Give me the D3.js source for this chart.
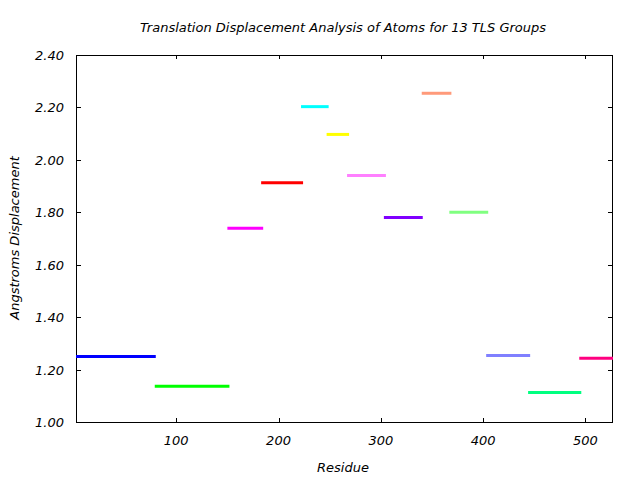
<!DOCTYPE html>
<html>
<head>
<meta charset="utf-8">
<script src="https://cdn.jsdelivr.net/npm/d3@7"></script>
<style>
html, body { margin: 0; padding: 0; background: #fff; }
svg text { font-family: "DejaVu Sans", sans-serif; font-style: italic; fill: #000; }
</style>
</head>
<body>
<svg id="chart" width="640" height="480"></svg>
<script>
// TLS group segments: residue ranges and mean displacement
const groupStart = [2, 79, 150, 183, 222, 247, 267, 303, 340, 367, 403, 444, 494];
const groupEnd   = [80, 152, 185, 224, 249, 269, 305, 341, 369, 405, 446, 496, 527];
const groupValue = [1.250, 1.136, 1.739, 1.913, 2.203, 2.097, 1.940, 1.780, 2.254, 1.800, 1.254, 1.113, 1.243];
const groupColor = ["#0000ff", "#00ff00", "#ff00ff", "#ff0000", "#00ffff", "#ffff00", "#ff80ff",
                    "#8000ff", "#ff9a7a", "#80ff80", "#8080ff", "#00ff80", "#ff0080"];
const xTicks = [100, 200, 300, 400, 500];
const yTicks = [1.00, 1.20, 1.40, 1.60, 1.80, 2.00, 2.20, 2.40];
const titleText = "Translation Displacement Analysis of Atoms for 13 TLS Groups";
const xLabel = "Residue";
const yLabel = "Angstroms Displacement";

const svg = d3.select("#chart");
const L = 76, R = 613, T = 55, B = 422;
const x = d3.scaleLinear().domain([2, 527]).range([L, R]);
const y = d3.scaleLinear().domain([1.0, 2.4]).range([B, T]);
const FS = 13;

// frame
svg.append("rect").attr("x", L + 0.5).attr("y", T + 0.5).attr("width", R - L - 1).attr("height", B - T)
  .attr("fill", "none").attr("stroke", "#000").attr("stroke-width", 1);

// y ticks (left + mirrored right)
const gy = svg.append("g");
yTicks.forEach(v => {
  const yy = Math.round(y(v)) + 0.5;
  gy.append("line").attr("x1", L).attr("x2", L + 5).attr("y1", yy).attr("y2", yy).attr("stroke", "#000");
  gy.append("line").attr("x1", R - 5).attr("x2", R).attr("y1", yy).attr("y2", yy).attr("stroke", "#000");
  gy.append("text").attr("x", 64).attr("y", y(v) + 5).attr("text-anchor", "end")
    .attr("font-size", FS).text(d3.format(".2f")(v));
});

// x ticks (bottom + mirrored top)
const gx = svg.append("g");
xTicks.forEach(v => {
  const xx = Math.round(x(v)) + 0.5;
  gx.append("line").attr("x1", xx).attr("x2", xx).attr("y1", B).attr("y2", B - 4).attr("stroke", "#000");
  gx.append("line").attr("x1", xx).attr("x2", xx).attr("y1", T).attr("y2", T + 4).attr("stroke", "#000");
  gx.append("text").attr("x", x(v)).attr("y", 445).attr("text-anchor", "middle")
    .attr("font-size", FS).text(v);
});

// segments
svg.append("g").selectAll("line").data(groupValue).join("line")
  .attr("x1", (d, i) => x(groupStart[i]))
  .attr("x2", (d, i) => x(groupEnd[i]))
  .attr("y1", d => y(d)).attr("y2", d => y(d))
  .attr("stroke", (d, i) => groupColor[i]).attr("stroke-width", 3);

// labels
svg.append("text").attr("x", 343).attr("y", 32).attr("text-anchor", "middle")
  .attr("font-size", FS).text(titleText);
svg.append("text").attr("x", 343).attr("y", 472).attr("text-anchor", "middle")
  .attr("font-size", FS).text(xLabel);
svg.append("text").attr("transform", "translate(19,238) rotate(-90)").attr("text-anchor", "middle")
  .attr("font-size", FS).text(yLabel);
</script>
</body>
</html>
